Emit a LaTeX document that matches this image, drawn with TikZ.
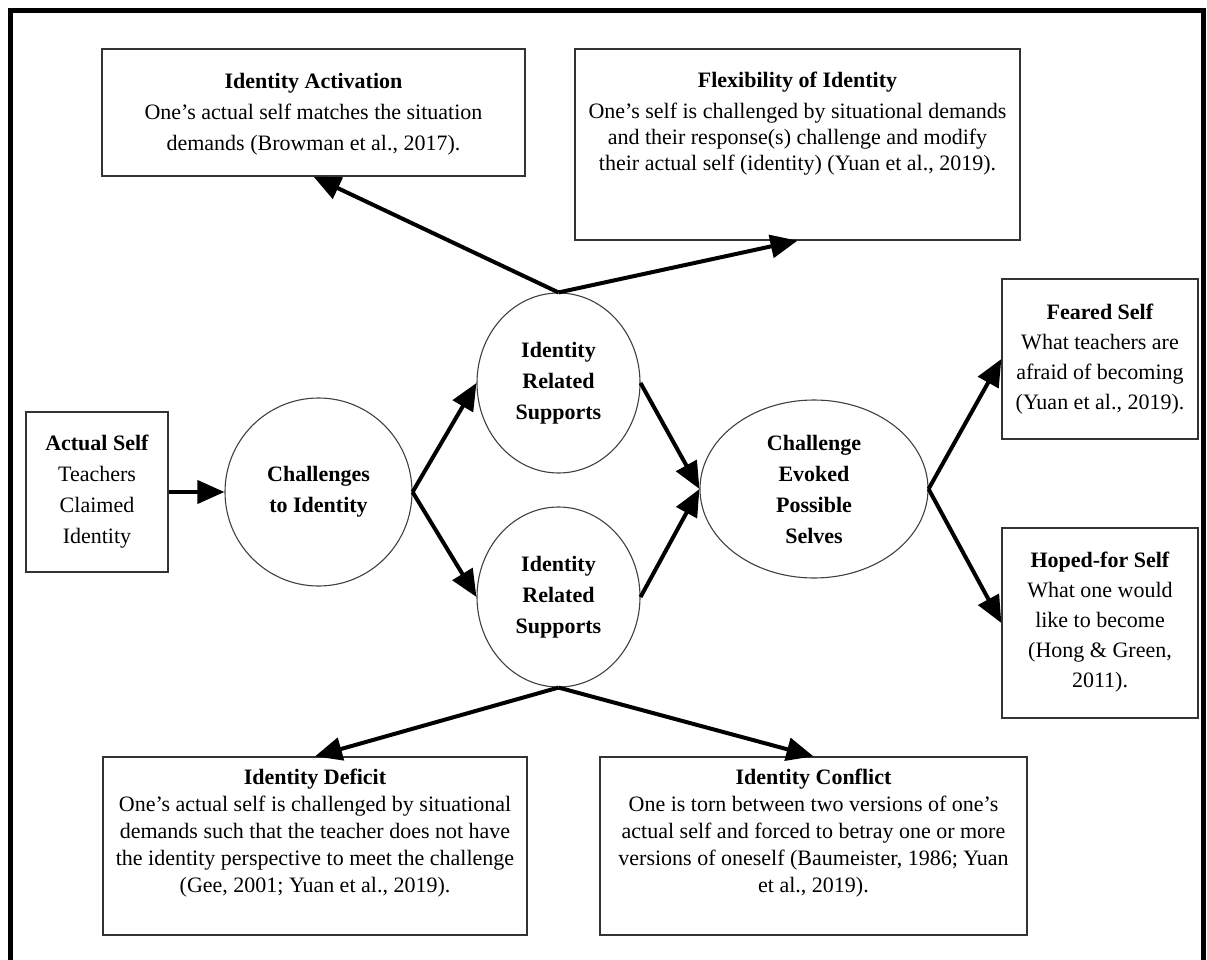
\documentclass[tikz,border=0pt]{standalone}
\usepackage{fontspec}
\setmainfont{Liberation Serif}
\usetikzlibrary{arrows.meta,shapes.geometric}
\begin{document}
\begin{tikzpicture}[x=1pt,y=-1pt,
  box/.style={draw=black!80, line width=1.3pt, rectangle, inner sep=0pt},
  txt/.style={align=center, font=\fontsize{22}{28}\selectfont, inner sep=0pt},
  circ/.style={draw=black!75, line width=1.1pt, ellipse, inner sep=0pt, align=center, font=\fontsize{22}{31}\selectfont\bfseries},
  arr/.style={line width=4pt, -{Triangle[length=27pt,width=23pt]}}]
\useasboundingbox (0,0) rectangle (1207,960);
\draw[line width=5pt] (10.5,975) -- (10.5,10.5) -- (1203,10.5) -- (1203,975);

% boxes
\node[box, minimum width=423pt, minimum height=127pt] (act) at (313.5,112.5) {};
\node[txt, font=\fontsize{22}{31}\selectfont] (actT) at (313.5,114) {\textbf{Identity Activation}\\One’s actual self matches the situation\\demands (Browman et al., 2017).};

\node[box, minimum width=445pt, minimum height=191pt] (flex) at (797.5,144.5) {};
\node[txt, font=\fontsize{22}{26}\selectfont] (flexT) at (797.5,124) {\textbf{Flexibility of Identity}\\[5pt]One’s self is challenged by situational demands\\and their response(s) challenge and modify\\their actual self (identity) (Yuan et al., 2019).};

\node[box, minimum width=142pt, minimum height=160pt] (actual) at (97,492) {};
\node[txt, font=\fontsize{22}{31}\selectfont] (actualT) at (97,492) {\textbf{Actual Self}\\Teachers\\Claimed\\Identity};

\node[box, minimum width=196pt, minimum height=160pt] (feared) at (1100,359) {};
\node[txt, font=\fontsize{22}{30}\selectfont] (fearedT) at (1100,359) {\textbf{Feared Self}\\What teachers are\\afraid of becoming\\(Yuan et al., 2019).};

\node[box, minimum width=196pt, minimum height=190pt] (hoped) at (1100,623) {};
\node[txt, font=\fontsize{22}{30}\selectfont] (hopedT) at (1100,622) {\textbf{Hoped-for Self}\\What one would\\like to become\\(Hong \& Green,\\2011).};

\node[box, minimum width=424pt, minimum height=178pt] (deficit) at (315,846) {};
\node[txt, font=\fontsize{22}{27}\selectfont] (deficitT) at (315,833) {\textbf{Identity Deficit}\\One’s actual self is challenged by situational\\demands such that the teacher does not have\\the identity perspective to meet the challenge\\(Gee, 2001; Yuan et al., 2019).};

\node[box, minimum width=427pt, minimum height=178pt] (conflict) at (813.5,846) {};
\node[txt, font=\fontsize{22}{27}\selectfont] (conflictT) at (813.5,833) {\textbf{Identity Conflict}\\One is torn between two versions of one’s\\actual self and forced to betray one or more\\versions of oneself (Baumeister, 1986; Yuan\\et al., 2019).};

% circles
\node[circ, minimum width=187pt, minimum height=188pt] (chal) at (318.5,492) {Challenges\\to Identity};
\node[circ, minimum width=163pt, minimum height=180pt] (irs1) at (558.5,383) {Identity\\Related\\Supports};
\node[circ, minimum width=163pt, minimum height=180pt] (irs2) at (558.5,597) {Identity\\Related\\Supports};
\node[circ, minimum width=228pt, minimum height=178pt] (ceps) at (814,489) {Challenge\\Evoked\\Possible\\Selves};

% arrows
\draw[arr] (actual.east) -- (chal.west);
\draw[arr] (chal.east) -- (irs1.west);
\draw[arr] (chal.east) -- (irs2.west);
\draw[arr] (irs1.east) -- (ceps.west);
\draw[arr] (irs2.east) -- (ceps.west);
\draw[arr] (ceps.east) -- (feared.west);
\draw[arr] (ceps.east) -- (hoped.west);
\draw[arr] (irs1.north) -- (act.south);
\draw[arr] (irs1.north) -- (flex.south);
\draw[arr] (irs2.south) -- (deficit.north);
\draw[arr] (irs2.south) -- (conflict.north);
\end{tikzpicture}
\end{document}
